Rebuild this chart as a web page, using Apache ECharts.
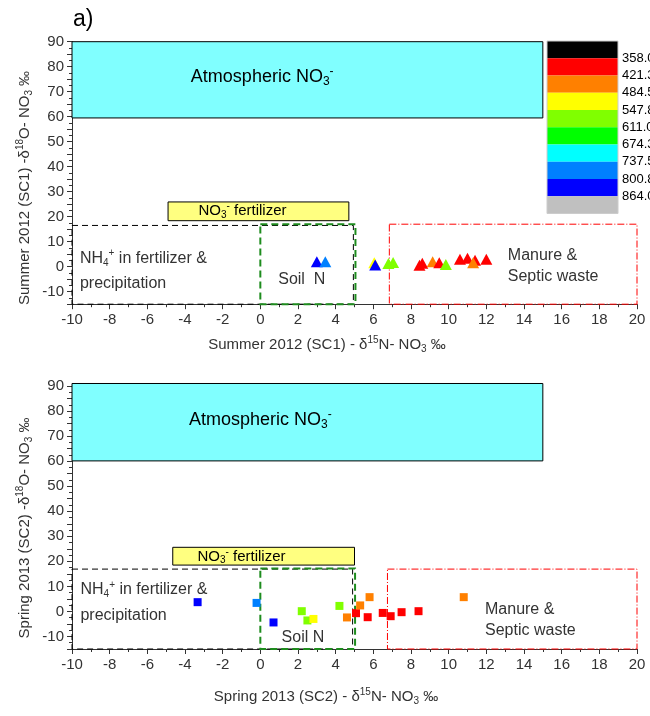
<!DOCTYPE html>
<html><head><meta charset="utf-8">
<script src="https://cdn.jsdelivr.net/npm/echarts@6/dist/echarts.min.js"></script>
<style>html,body{margin:0;padding:0;background:#fff}#c{width:650px;height:716px}</style>
</head><body><div id="c"></div>
<script>
// ---- data ----
const legendLevels = ['358.0','421.3','484.5','547.8','611.0','674.3','737.5','800.8','864.0'];
const legendColors = ['#000000','#FF0000','#FF8000','#FFFF00','#80FF00','#00FF00','#00FFFF','#0080FF','#0000FF','#C0C0C0'];
// [δ15N, δ18O, colour band index]
const summer2012 = [[3.0,2.0,8],[3.45,2.0,7],[6.05,1.6,3],[6.1,0.7,8],[6.8,1.3,4],[7.05,1.7,4],[8.45,0.6,1],[8.6,1.4,1],[9.15,2.0,2],[9.5,1.6,1],[9.85,0.9,4],[10.6,3.0,1],[11.0,3.4,1],[11.4,2.6,1],[11.3,1.6,2],[12.0,3.0,1]];
const spring2013 = [[-3.33,3.7,8],[-0.2,3.4,7],[0.7,-4.4,8],[2.2,0.1,4],[2.5,-3.6,4],[2.82,-3.0,3],[4.2,2.2,4],[4.6,-2.4,2],[5.08,-0.7,1],[5.3,2.4,2],[5.8,5.7,2],[5.7,-2.3,1],[6.5,-0.6,1],[6.92,-1.9,1],[7.5,-0.3,1],[8.4,0.1,1],[10.8,5.7,2]];
// source boxes [x1, y1, x2, y2, kind]
const boxesA = [[-10,59.5,15,90,0],[-4.9,18.4,4.7,25.9,1],[-10,-15,4.94,16.5,2],[0,-15,5.05,17,3],[6.85,-15,20,17,4]];
const boxesB = [[-10,60.1,15,91,0],[-4.65,18.5,5.0,25.6,1],[-10,-15,4.9,16.9,2],[0,-15,5.03,17.1,3],[6.75,-15,20,16.9,4]];
const noteTexts = ['Atmospheric NO{sub|3}{sup|-}','NO{sub|3}{sup|-} fertilizer','NH{sub|4}{sup|+} in fertilizer &','precipitation','Soil  N','Manure &','Septic waste','Soil N'];
// [x, y, text index]
const notesA = [[0.1,76,0],[-0.95,22.3,1],[-9.58,3.2,2],[-9.58,-6.6,3],[2.2,-5.3,4],[13.14,4.3,5],[13.14,-4.0,6]];
const notesB = [[0.0,76.4,0],[-1.0,21.9,1],[-9.55,8.6,2],[-9.55,-1.75,3],[2.26,-10.25,7],[11.93,0.64,5],[11.93,-7.6,6]];
const xTitleA = 'Summer 2012 (SC1) - δ{sup|15}N- NO{sub|3} ‰';
const yTitleA = 'Summer 2012 (SC1) -δ{sup|18}O- NO{sub|3} ‰';
const xTitleB = 'Spring 2013 (SC2) - δ{sup|15}N- NO{sub|3} ‰';
const yTitleB = 'Spring 2013 (SC2) -δ{sup|18}O- NO{sub|3} ‰';

// ---- styles ----
const FONT = '"Liberation Sans", Arial, sans-serif';
const boxStyles = [
  {fill:'#80FFFF', stroke:'#000', lw:1, dash:null},
  {fill:'#FFFF80', stroke:'#000', lw:1, dash:null},
  {fill:'none', stroke:'#000', lw:1, dash:[6,4]},
  {fill:'none', stroke:'#1E8C1E', lw:2, dash:[7,4]},
  {fill:'none', stroke:'#FF0000', lw:1, dash:[7,2,1,2]}
];
const noteAlign = ['center','center','left','left','center','left','left','center'];
const noteColor = ['#000','#000','#333','#333','#333','#333','#333','#333'];
const noteSize = [18,15,16,16,16,16,16,16];
function richFor(sz){
  return {
    sub:{fontSize:Math.round(sz*0.65), fontFamily:FONT, padding:[Math.round(sz*0.55),0,0,0]},
    sup:{fontSize:Math.round(sz*0.65), fontFamily:FONT, padding:[0,0,Math.round(sz*0.6),0]}
  };
}
function renderBox(params, api){
  const st = boxStyles[api.value(4)];
  const p1 = api.coord([api.value(0), api.value(3)]);
  const p2 = api.coord([api.value(2), api.value(1)]);
  return {type:'rect', shape:{x:p1[0], y:p1[1], width:p2[0]-p1[0], height:p2[1]-p1[1]},
    style:{fill:st.fill, stroke:st.stroke, lineWidth:st.lw, lineDash:st.dash}};
}
function renderNote(params, api){
  const i = api.value(2);
  const p = api.coord([api.value(0), api.value(1)]);
  const sz = noteSize[i];
  return {type:'text', x:p[0], y:p[1],
    style:{text:noteTexts[i], fill:noteColor[i], fontSize:sz, fontFamily:FONT,
      align:noteAlign[i], verticalAlign:'middle', rich:richFor(sz)}};
}
function xAxisCfg(g){
  return {gridIndex:g, type:'value', min:-10, max:20, interval:2,
    axisLine:{show:true, onZero:false, lineStyle:{color:'#333'}},
    axisTick:{show:true, length:5, lineStyle:{color:'#333'}},
    minorTick:{show:true, splitNumber:2, length:3, lineStyle:{color:'#333'}},
    splitLine:{show:false},
    axisLabel:{fontSize:15, color:'#333', margin:8, fontFamily:FONT}};
}
function yAxisCfg(g){
  return {gridIndex:g, type:'value', min:-15, max:90, interval:5,
    axisLine:{show:true, onZero:false, lineStyle:{color:'#333'}},
    axisTick:{show:true, length:5, lineStyle:{color:'#333'}},
    minorTick:{show:true, splitNumber:2, length:3, lineStyle:{color:'#333'}},
    splitLine:{show:false},
    axisLabel:{fontSize:15, color:'#333', margin:8, fontFamily:FONT,
      formatter:v => (v % 10 === 0 ? String(v) : '')}};
}
const colorOf = p => legendColors[p.value[2]];

const graphics = [];
legendColors.forEach((c,i)=>{
  graphics.push({type:'rect', shape:{x:547, y:41+i*17.25, width:71, height:17.25}, style:{fill:c}});
});
legendLevels.forEach((t,i)=>{
  graphics.push({type:'text', x:622, y:41+(i+1)*17.25, style:{text:t, fontSize:13, fontFamily:FONT, fill:'#000', align:'left', verticalAlign:'middle'}});
});
graphics.push({type:'rect', shape:{x:547, y:41, width:71, height:172.5}, style:{fill:'none', stroke:'#ccc', lineWidth:1}});
[['a)',20],['b)',398]].forEach(([t,y])=>{
  graphics.push({type:'text', x:73, y:y, style:{text:t, fontSize:23, fontFamily:FONT, fill:'#000', align:'left', verticalAlign:'middle'}});
});
[[xTitleA,327,345],[xTitleB,326,697]].forEach(([t,x,y])=>{
  graphics.push({type:'text', x:x, y:y, style:{text:t, fontSize:15, fontFamily:FONT, fill:'#333', align:'center', verticalAlign:'middle', rich:richFor(15)}});
});
[[yTitleA,25,188],[yTitleB,25,528]].forEach(([t,x,y])=>{
  graphics.push({type:'text', x:x, y:y, rotation:Math.PI/2, style:{text:t, fontSize:15, fontFamily:FONT, fill:'#333', align:'center', verticalAlign:'middle', rich:richFor(15)}});
});

const chart = echarts.init(document.getElementById('c'), null, {renderer:'canvas'});
chart.setOption({
  animation:false,
  backgroundColor:'#fff',
  grid:[{left:72, top:41.7, width:565, height:262.5},{left:72, top:386, width:565, height:263}],
  xAxis:[xAxisCfg(0), xAxisCfg(1)],
  yAxis:[yAxisCfg(0), yAxisCfg(1)],
  series:[
    {type:'custom', xAxisIndex:0, yAxisIndex:0, data:boxesA, renderItem:renderBox, encode:{x:[0,2], y:[1,3]}, z:1, silent:true},
    {type:'custom', xAxisIndex:1, yAxisIndex:1, data:boxesB, renderItem:renderBox, encode:{x:[0,2], y:[1,3]}, z:1, silent:true},
    {type:'custom', xAxisIndex:0, yAxisIndex:0, data:notesA, renderItem:renderNote, encode:{x:0, y:1}, z:2, silent:true},
    {type:'custom', xAxisIndex:1, yAxisIndex:1, data:notesB, renderItem:renderNote, encode:{x:0, y:1}, z:2, silent:true},
    {type:'scatter', xAxisIndex:0, yAxisIndex:0, data:summer2012, symbol:'triangle', symbolSize:[12,11], itemStyle:{color:colorOf, opacity:1}, z:5},
    {type:'scatter', xAxisIndex:1, yAxisIndex:1, data:spring2013, symbol:'rect', symbolSize:8, itemStyle:{color:colorOf, opacity:1}, z:5}
  ],
  graphic:graphics
});
</script></body></html>
